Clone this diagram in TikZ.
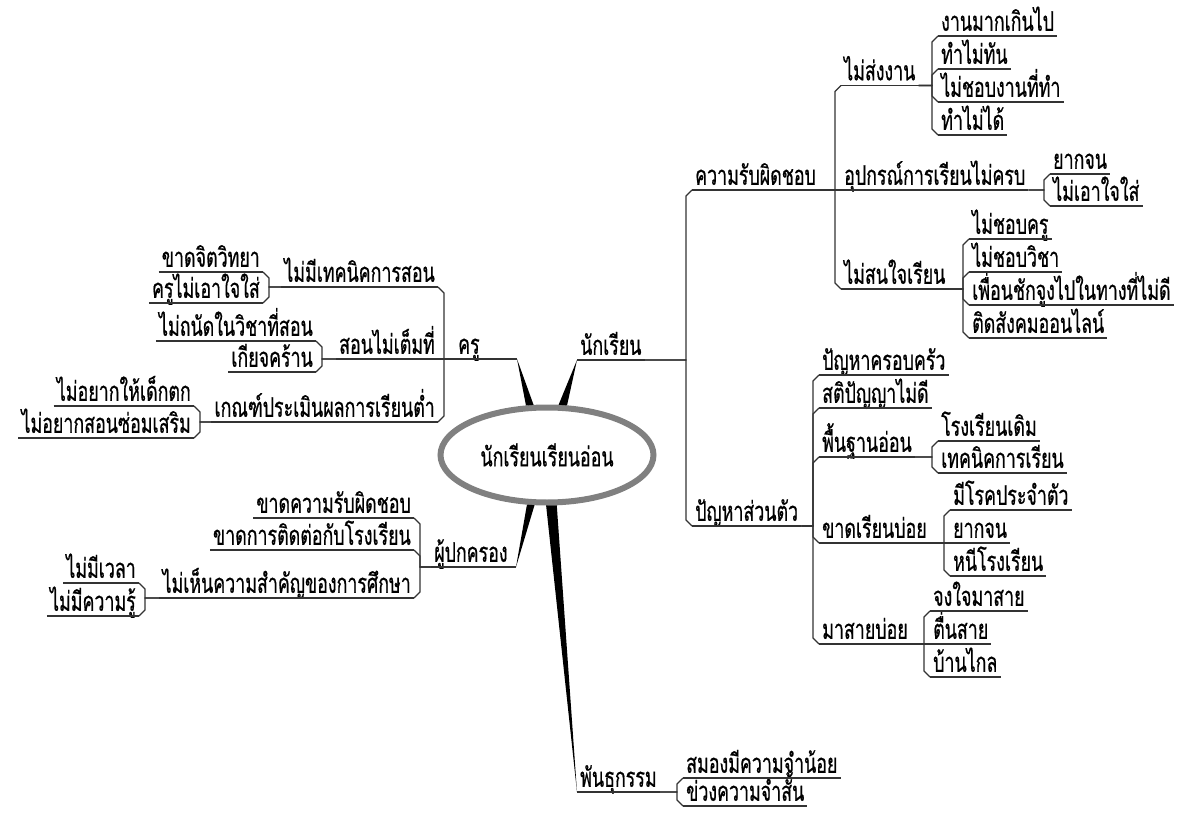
\documentclass[tikz,border=0pt]{standalone}
\usepackage{fontspec}
\newfontfamily\thaifont[Script=Thai,FakeStretch=0.66,FakeBold=0.6]{Loma}
\usetikzlibrary{shapes.geometric,calc}
\tikzset{
  topic/.style={inner xsep=3pt,inner ysep=5pt,text depth=0pt,font=\thaifont\fontsize{27}{30}\selectfont},
  rtopic/.style={topic,anchor=south west},
  ltopic/.style={topic,anchor=south east},
  link/.style={draw=black!80,line width=1.2pt},
  hub/.style={ellipse,draw=black!50,line width=6pt,fill=white,minimum width=213,minimum height=95,inner sep=0pt,font=\thaifont\fontsize{27}{30}\selectfont}
}
\begin{document}
\begin{tikzpicture}[x=1pt,y=-1pt]
\useasboundingbox (0,0) rectangle (1187,814);

\node[hub] (hub) at (547,455) {นักเรียนเรียนอ่อน};

% right side
\node[rtopic] (nak) at (577,360) {นักเรียน};
\node[rtopic] (rab) at (692,190) {ความรับผิดชอบ};
\node[rtopic] (song) at (841,85.5) {ไม่ส่งงาน};
\node[rtopic] (s1) at (938,36) {งานมากเกินไป};
\node[rtopic] (s2) at (938,69) {ทำไม่ทัน};
\node[rtopic] (s3) at (938,102) {ไม่ชอบงานที่ทำ};
\node[rtopic] (s4) at (938,135) {ทำไม่ได้};
\node[rtopic] (upk) at (841,190) {อุปกรณ์การเรียนไม่ครบ};
\node[rtopic] (u1) at (1050,174) {ยากจน};
\node[rtopic] (u2) at (1050,206) {ไม่เอาใจใส่};
\node[rtopic] (sj) at (841,289) {ไม่สนใจเรียน};
\node[rtopic] (j1) at (969,239) {ไม่ชอบครู};
\node[rtopic] (j2) at (969,272) {ไม่ชอบวิชา};
\node[rtopic] (j3) at (969,305) {เพื่อนชักจูงไปในทางที่ไม่ดี};
\node[rtopic] (j4) at (969,338) {ติดสังคมออนไลน์};
\node[rtopic] (suan) at (692,526) {ปัญหาส่วนตัว};
\node[rtopic] (p1) at (819,375) {ปัญหาครอบครัว};
\node[rtopic] (p2) at (819,408) {สติปัญญาไม่ดี};
\node[rtopic] (p3) at (819,457) {พื้นฐานอ่อน};
\node[rtopic] (f1) at (938,441) {โรงเรียนเดิม};
\node[rtopic] (f2) at (938,473) {เทคนิคการเรียน};
\node[rtopic] (p4) at (819,543) {ขาดเรียนบ่อย};
\node[rtopic] (k1) at (950,510) {มีโรคประจำตัว};
\node[rtopic] (k2) at (950,543) {ยากจน};
\node[rtopic] (k3) at (950,576) {หนีโรงเรียน};
\node[rtopic] (p5) at (819,644) {มาสายบ่อย};
\node[rtopic] (m1) at (930,611) {จงใจมาสาย};
\node[rtopic] (m2) at (930,644) {ตื่นสาย};
\node[rtopic] (m3) at (930,677) {บ้านไกล};
\node[rtopic] (gen) at (577,792) {พันธุกรรม};
\node[rtopic] (g1) at (683,778) {สมองมีความจำน้อย};
\node[rtopic] (g2) at (683,806) {ข่วงความจำสั้น};

% left side
\node[rtopic] (kru) at (455,359) {ครู};
\coordinate (krutip) at (517,359);
\node[ltopic] (t1) at (438,287) {ไม่มีเทคนิคการสอน};
\node[ltopic] (a1) at (263,272) {ขาดจิตวิทยา};
\node[ltopic] (a2) at (263,303) {ครูไม่เอาใจใส่};
\node[ltopic] (t2) at (438,359) {สอนไม่เต็มที่};
\node[ltopic] (b1) at (316,341) {ไม่ถนัดในวิชาที่สอน};
\node[ltopic] (b2) at (316,372) {เกียจคร้าน};
\node[ltopic] (t3) at (438,422) {เกณฑ์ประเมินผลการเรียนต่ำ};
\node[ltopic] (c1) at (194,406) {ไม่อยากให้เด็กตก};
\node[ltopic] (c2) at (194,438) {ไม่อยากสอนซ่อมเสริม};
\node[rtopic] (pok) at (431,567) {ผู้ปกครอง};
\coordinate (poktip) at (516,567);
\node[ltopic] (d1) at (414,518) {ขาดความรับผิดชอบ};
\node[ltopic] (d2) at (414,550) {ขาดการติดต่อกับโรงเรียน};
\node[ltopic] (d3) at (414,598) {ไม่เห็นความสำคัญของการศึกษา};
\node[ltopic] (e1) at (139,583) {ไม่มีเวลา};
\node[ltopic] (e2) at (139,616) {ไม่มีความรู้};

\foreach \n in {nak,rab,song,s1,s2,s3,s4,upk,u1,u2,sj,j1,j2,j3,j4,suan,p1,p2,p3,f1,f2,p4,k1,k2,k3,p5,m1,m2,m3,gen,g1,g2,kru,t1,a1,a2,t2,b1,b2,t3,c1,c2,pok,d1,d2,d3,e1,e2}
  \draw[link] (\n.south west) -- (\n.south east);

\foreach \p/\c/\o in {nak/rab/6,nak/suan/-6,rab/song/6,rab/upk/0,rab/sj/-6,song/s1/6,song/s2/6,song/s3/-6,song/s4/-6,upk/u1/6,upk/u2/-6,sj/j1/6,sj/j2/6,sj/j3/-6,sj/j4/-6,suan/p1/6,suan/p2/6,suan/p3/6,suan/p4/-6,suan/p5/-6,p3/f1/6,p3/f2/-6,p4/k1/6,p4/k2/0,p4/k3/-6,p5/m1/6,p5/m2/0,p5/m3/-6,gen/g1/6,gen/g2/-6}
  \draw[link] (\p.south east) -| ($(\c.south west)+(-6,\o)$) -- (\c.south west);

\foreach \p/\c/\o in {kru/t1/6,kru/t2/0,kru/t3/-6,t1/a1/6,t1/a2/-6,t2/b1/6,t2/b2/-6,t3/c1/6,t3/c2/-6,pok/d1/6,pok/d2/6,pok/d3/-6,d3/e1/6,d3/e2/-6}
  \draw[link] (\p.south west) -| ($(\c.south east)+(6,\o)$) -- (\c.south east);

\draw[link] (kru.south east) -- (krutip);
\draw[link] (pok.south east) -- (poktip);

\fill (krutip) -- (hub.113) -- (hub.105) -- cycle;
\fill (nak.south west) -- (hub.77) -- (hub.68) -- cycle;
\fill (poktip) -- (hub.-112) -- (hub.-104) -- cycle;
\fill (gen.south west) -- (hub.-91) -- (hub.-79) -- cycle;
\end{tikzpicture}
\end{document}
